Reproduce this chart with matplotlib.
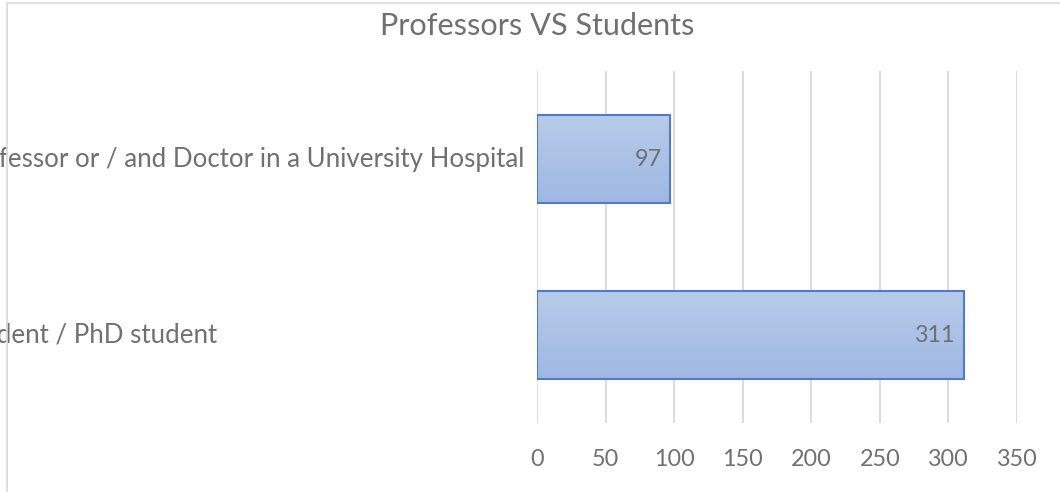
import matplotlib
matplotlib.use("Agg")
import matplotlib.pyplot as plt
import matplotlib.transforms as mtransforms
from matplotlib.patches import Rectangle
from matplotlib.textpath import TextPath
from matplotlib.font_manager import FontProperties
import numpy as np

# Chart content
title = "Professors VS Students"
categories = ["Student / PhD student",
              "Professor or / and Doctor in a University Hospital"]
counts = [311, 97]
x_ticks = [0, 50, 100, 150, 200, 250, 300, 350]

FAMILY = ["Lato", "DejaVu Sans"]
plt.rcParams["font.family"] = FAMILY
TEXT = "#707070"
EDGE = "#4f7bca"
W, H = 1060, 492


def size_for(text, width_px):
    """Font size (pt at 100 dpi) giving the text roughly the given width."""
    tp = TextPath((0, 0), text, size=10, prop=FontProperties(family=FAMILY))
    ext = tp.get_extents()
    return 10 * width_px / (ext.width * 100 / 72)


fig = plt.figure(figsize=(W / 100, H / 100), dpi=100)
fig.patch.set_facecolor("white")

# chart area border (top and left edges visible)
fig.add_artist(Rectangle((7 / W, -0.1), 1.2, 1.1 - 3 / H,
                         transform=fig.transFigure, fill=False,
                         edgecolor="#d9d9d9", linewidth=1.2))

tick_size = size_for("350", 39)
ax = fig.add_axes([537 / W, 1 - 423 / H, (1017 - 537) / W, (423 - 71) / H])
ax.set_xticks(x_ticks)
ax.set_xticklabels([str(t) for t in x_ticks])
ax.tick_params(axis="x", length=0, pad=19, labelsize=tick_size, labelcolor=TEXT)
ax.tick_params(axis="y", length=0, labelleft=False)
ax.grid(axis="x", color="#d9d9d9", linewidth=1.3)
ax.set_axisbelow(True)
for s in ax.spines.values():
    s.set_visible(False)

y = np.arange(len(categories))
bars = ax.barh(y, counts, height=0.5, color="none", edgecolor=EDGE,
               linewidth=1.5, zorder=3)

# soft vertical gradient fill inside each bar, lighter at the top
grad = np.linspace(0, 1, 256).reshape(-1, 1)
cmap = matplotlib.colors.LinearSegmentedColormap.from_list(
    "barfill", ["#b8cbea", "#9fb8e2"])
for b in bars:
    x0, y0, w, h = b.get_x(), b.get_y(), b.get_width(), b.get_height()
    im = ax.imshow(grad, extent=(x0, x0 + w, y0, y0 + h), origin="upper",
                   cmap=cmap, aspect="auto", zorder=2)
    im.set_clip_path(b)

ax.set_xlim(0, 350)
ax.set_ylim(-0.5, len(categories) - 0.5)

# value labels at the inside end of each bar
for yi, v in zip(y, counts):
    ax.annotate(str(v), (v, yi), xytext=(-6, 0), textcoords="offset points",
                ha="right", va="center", fontsize=tick_size, color=TEXT,
                zorder=4)

# category labels share one left edge; the longest ends just left of the plot
label_size = size_for("fessor or / and Doctor in a University Hospital", 522)
lab_tr = mtransforms.blended_transform_factory(fig.transFigure, ax.transData)
labels = [ax.text(0, yi, name, transform=lab_tr, ha="left", va="center",
                  fontsize=label_size, color=TEXT, clip_on=False)
          for yi, name in zip(y, categories)]
renderer = fig.canvas.get_renderer()
longest = max(t.get_window_extent(renderer).width for t in labels)
left = (524 - longest) / W
for t in labels:
    t.set_x(left)

fig.text(537 / W, 1 - 26 / H, title, ha="center", va="center",
         fontsize=size_for(title, 311), color=TEXT)

fig.savefig("out.png", dpi=100)
